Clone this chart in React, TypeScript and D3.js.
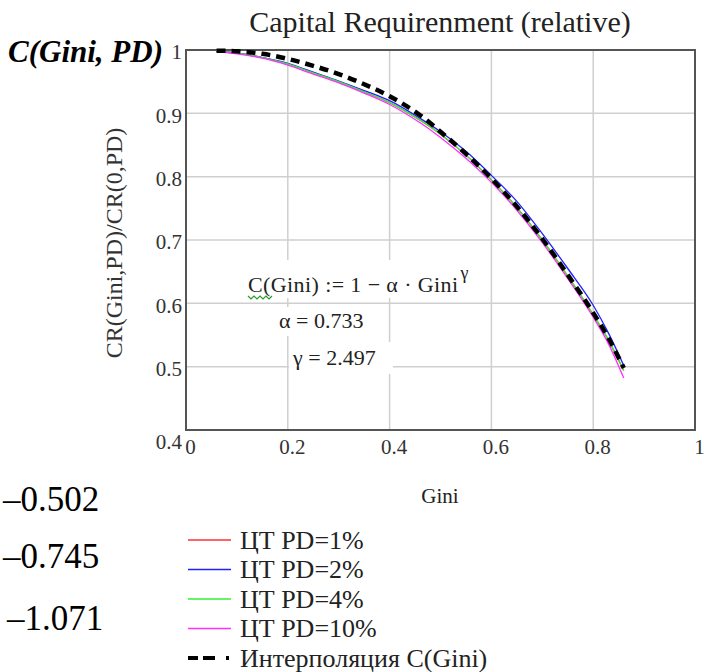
import React, { useEffect, useRef } from "react";
import * as d3 from "d3";

// DATA
const gini = [0.06, 0.1, 0.15, 0.2, 0.25, 0.3, 0.35, 0.4, 0.46, 0.5, 0.55, 0.6, 0.65, 0.7, 0.75, 0.8, 0.83, 0.86];
// PD=1% lies hidden under the other curves
const pd1 = [0.998, 0.995, 0.988, 0.978, 0.964, 0.95, 0.934, 0.917, 0.889, 0.867, 0.834, 0.795, 0.751, 0.7, 0.643, 0.582, 0.542, 0.494];
const pd2 = [0.998, 0.995, 0.988, 0.979, 0.965, 0.951, 0.936, 0.92, 0.892, 0.871, 0.84, 0.802, 0.761, 0.71, 0.655, 0.597, 0.553, 0.502];
const pd4 = [0.998, 0.995, 0.988, 0.978, 0.964, 0.95, 0.934, 0.917, 0.889, 0.867, 0.834, 0.795, 0.751, 0.7, 0.643, 0.582, 0.542, 0.494];
const pd10 = [0.998, 0.994, 0.987, 0.976, 0.962, 0.948, 0.932, 0.914, 0.885, 0.862, 0.829, 0.791, 0.747, 0.696, 0.639, 0.578, 0.536, 0.482];
const interp = [0.999, 0.998, 0.994, 0.986, 0.975, 0.962, 0.946, 0.927, 0.897, 0.871, 0.836, 0.797, 0.753, 0.702, 0.645, 0.585, 0.545, 0.498];

const xTicks = [0, 0.2, 0.4, 0.6, 0.8, 1];
const yTicks = [0.4, 0.5, 0.6, 0.7, 0.8, 0.9, 1];
const legendLabels = ["ЦТ PD=1%", "ЦТ PD=2%", "ЦТ PD=4%", "ЦТ PD=10%", "Интерполяция C(Gini)"];
const sideValues = ["–0.502", "–0.745", "–1.071"];

const SERIF = "'Liberation Serif', 'Times New Roman', serif";

export default function App() {
  const ref = useRef<SVGSVGElement | null>(null);

  useEffect(() => {
    const svg = d3.select(ref.current);
    svg.selectAll("*").remove();

    // PLOT AREA
    const left = 186, right = 695, top = 50, bottom = 430;
    const x = d3.scaleLinear().domain([0, 1]).range([left, right]);
    const y = d3.scaleLinear().domain([0.4, 1]).range([bottom, top]);

    // GRID
    const grid = svg.append("g").attr("stroke", "#cfcfcf").attr("stroke-width", 1.5);
    grid
      .selectAll("line.gx")
      .data(xTicks.slice(1, -1))
      .join("line")
      .attr("x1", (d) => x(d))
      .attr("x2", (d) => x(d))
      .attr("y1", top)
      .attr("y2", bottom);
    grid
      .selectAll("line.gy")
      .data(yTicks.slice(1, -1))
      .join("line")
      .attr("x1", left)
      .attr("x2", right)
      .attr("y1", (d) => y(d))
      .attr("y2", (d) => y(d));

    // WHITE BOXES BEHIND THE FORMULA
    const boxes = svg.append("g").attr("fill", "white");
    boxes.append("rect").attr("x", 245).attr("y", 260).attr("width", 232).attr("height", 38);
    boxes.append("rect").attr("x", 274).attr("y", 307).attr("width", 96).attr("height", 29);
    boxes.append("rect").attr("x", 289).attr("y", 342).attr("width", 104).attr("height", 32);

    // FRAME
    svg
      .append("rect")
      .attr("x", left)
      .attr("y", top)
      .attr("width", right - left)
      .attr("height", bottom - top)
      .attr("fill", "none")
      .attr("stroke", "#555")
      .attr("stroke-width", 2);

    // X TICK LABELS
    const xAxis = svg
      .append("g")
      .attr("transform", `translate(4,${bottom})`)
      .call(d3.axisBottom(x).tickValues(xTicks).tickSize(0).tickPadding(9).tickFormat(d3.format("")));
    xAxis.select(".domain").remove();
    xAxis.selectAll("text").attr("font-family", SERIF).attr("font-size", 21).attr("fill", "#333");

    // Y TICK LABELS
    const yAxis = svg
      .append("g")
      .attr("transform", `translate(${left - 4},2)`)
      .call(d3.axisLeft(y).tickValues(yTicks).tickSize(0).tickPadding(0).tickFormat(d3.format("")));
    yAxis.select(".domain").remove();
    yAxis
      .selectAll("text")
      .attr("font-family", SERIF)
      .attr("font-size", 21)
      .attr("fill", "#333")
      .attr("dy", (d: any) => (d === 0.4 ? "0.8em" : "0.32em"));

    // LINES
    const line = d3
      .line<number>()
      .x((_, i) => x(gini[i]))
      .y((d) => y(d))
      .curve(d3.curveMonotoneX);

    const series = [
      { values: pd1, color: "#ff3030" },
      { values: pd2, color: "#2020ff" },
      { values: pd4, color: "#30f030" },
      { values: pd10, color: "#ff30ff" },
    ];
    series.forEach((s) => {
      svg
        .append("path")
        .datum(s.values)
        .attr("fill", "none")
        .attr("stroke", s.color)
        .attr("stroke-width", 1.3)
        .attr("d", line);
    });
    svg
      .append("path")
      .datum(interp)
      .attr("fill", "none")
      .attr("stroke", "#000")
      .attr("stroke-width", 4.5)
      .attr("stroke-dasharray", "9 6")
      .attr("d", line);

    // TITLE & AXIS LABELS
    svg
      .append("text")
      .attr("x", 440)
      .attr("y", 32)
      .attr("text-anchor", "middle")
      .attr("font-family", SERIF)
      .attr("font-size", 30)
      .attr("fill", "#222")
      .text("Capital Requirenment (relative)");
    svg
      .append("text")
      .attr("x", 8)
      .attr("y", 62)
      .attr("font-family", SERIF)
      .attr("font-size", 31)
      .attr("font-weight", "bold")
      .attr("font-style", "italic")
      .attr("fill", "#000")
      .text("C(Gini, PD)");
    svg
      .append("text")
      .attr("x", 440)
      .attr("y", 503)
      .attr("text-anchor", "middle")
      .attr("font-family", SERIF)
      .attr("font-size", 21)
      .attr("fill", "#222")
      .text("Gini");
    svg
      .append("text")
      .attr("transform", "translate(114,243) rotate(-90)")
      .attr("text-anchor", "middle")
      .attr("dominant-baseline", "central")
      .attr("font-family", SERIF)
      .attr("font-size", 24)
      .attr("fill", "#333")
      .text("CR(Gini,PD)/CR(0,PD)");

    // FORMULA
    const f = svg
      .append("text")
      .attr("x", 248)
      .attr("y", 292)
      .attr("font-family", SERIF)
      .attr("font-size", 22)
      .attr("letter-spacing", 0.4)
      .attr("fill", "#222");
    f.append("tspan").text("C(Gini) := 1 − α · Gini");
    f.append("tspan").attr("dy", -13).attr("dx", 2).attr("font-size", 18).text("γ");
    svg
      .append("path")
      .attr("d", "M248,296 l3,3 l3,-3 l3,3 l3,-3 l3,3 l3,-3 l3,3 l3,-3")
      .attr("fill", "none")
      .attr("stroke", "#2a9a2a")
      .attr("stroke-width", 1.2);
    svg
      .append("text")
      .attr("x", 279)
      .attr("y", 328)
      .attr("font-family", SERIF)
      .attr("font-size", 22)
      .attr("fill", "#222")
      .text("α = 0.733");
    svg
      .append("text")
      .attr("x", 293)
      .attr("y", 365)
      .attr("font-family", SERIF)
      .attr("font-size", 22)
      .attr("fill", "#222")
      .text("γ = 2.497");

    // SIDE VALUES
    svg
      .selectAll("text.side")
      .data(sideValues)
      .join("text")
      .attr("class", "side")
      .attr("x", (_, i) => (i === 2 ? 7 : 3))
      .attr("y", (_, i) => [511, 568, 630][i])
      .attr("font-family", SERIF)
      .attr("font-size", 35)
      .attr("fill", "#000")
      .text((d) => d);

    // LEGEND
    const legendColors = ["#ff3030", "#2020ff", "#30f030", "#ff30ff", "#000"];
    const rowY = d3.scaleLinear().domain([0, 4]).range([540, 658]);
    const lg = svg.append("g");
    legendLabels.forEach((label, i) => {
      const yy = rowY(i);
      lg.append("line")
        .attr("x1", 188)
        .attr("x2", 231)
        .attr("y1", yy)
        .attr("y2", yy)
        .attr("stroke", legendColors[i])
        .attr("stroke-width", i === 4 ? 4 : 1.6)
        .attr("stroke-dasharray", i === 4 ? "10 5 12 11 3 50" : null);
      lg.append("text")
        .attr("x", 240)
        .attr("y", yy)
        .attr("dy", "0.33em")
        .attr("font-family", SERIF)
        .attr("font-size", 26)
        .attr("fill", "#222")
        .text(label);
    });
  }, []);

  return (
    <svg
      ref={ref}
      width={704}
      height={672}
      style={{ position: "absolute", left: 0, top: 0, background: "white" }}
    />
  );
}
